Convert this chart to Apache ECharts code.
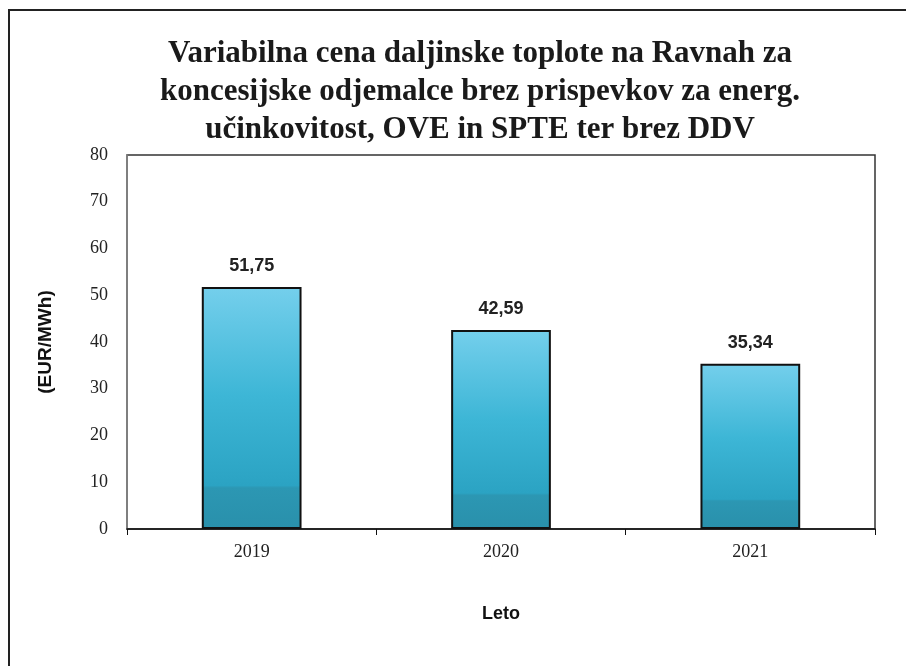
<!DOCTYPE html>
<html>
<head>
<meta charset="utf-8">
<script src="https://cdn.jsdelivr.net/npm/echarts@6/dist/echarts.min.js"></script>
<style>
  html, body { margin: 0; padding: 0; background: #fff; }
  #main { width: 906px; height: 666px; }
</style>
</head>
<body>
<div id="main"></div>
<script>
// podatki
const years = ['2019', '2020', '2021']
const prices = [51.75, 42.59, 35.34]
const titleLines = [
  'Variabilna cena daljinske toplote na Ravnah za',
  'koncesijske odjemalce brez prispevkov za energ.',
  'učinkovitost, OVE in SPTE ter brez DDV',
]

const chart = echarts.init(document.getElementById('main'))

const option = {
  backgroundColor: '#ffffff',
  animation: false,
  title: {
    text: titleLines.join('\n'),
    left: 475,
    textAlign: 'center',
    top: 30,
    textStyle: {
      fontFamily: 'Liberation Serif',
      fontWeight: 'bold',
      fontSize: 31,
      lineHeight: 38,
      color: '#1a1a1a',
    },
  },
  // okvir okoli celotne slike
  graphic: [
    {
      type: 'rect',
      shape: { x: 9, y: 10, width: 920, height: 700 },
      style: { fill: 'none', stroke: '#222', lineWidth: 2 },
      silent: true,
    },
  ],
  grid: {
    left: 127,
    right: 31,
    top: 155,
    bottom: 137,
    show: true,
    borderColor: '#333',
    borderWidth: 1.5,
  },
  xAxis: {
    type: 'category',
    data: years,
    name: 'Leto',
    nameLocation: 'middle',
    nameGap: 76,
    nameTextStyle: {
      fontFamily: 'Liberation Sans',
      fontWeight: 'bold',
      fontSize: 18,
      color: '#111',
    },
    axisLine: { lineStyle: { color: '#111', width: 1.5 } },
    axisTick: { show: true, length: 6, lineStyle: { color: '#111' } },
    axisLabel: {
      margin: 14,
      fontFamily: 'Liberation Serif',
      fontSize: 18,
      color: '#222',
    },
  },
  yAxis: {
    type: 'value',
    min: 0,
    max: 80,
    interval: 10,
    name: '(EUR/MWh)',
    nameLocation: 'middle',
    nameGap: 72,
    nameRotate: 90,
    nameTextStyle: {
      fontFamily: 'Liberation Sans',
      fontWeight: 'bold',
      fontSize: 19,
      color: '#111',
    },
    axisLine: { show: true, lineStyle: { color: '#888', width: 1.5 } },
    axisTick: { show: false },
    splitLine: { show: false },
    axisLabel: {
      margin: 19,
      fontFamily: 'Liberation Serif',
      fontSize: 18,
      color: '#222',
    },
  },
  series: [
    {
      type: 'bar',
      data: prices,
      barWidth: '40%',
      itemStyle: {
        borderColor: '#111',
        borderWidth: 2,
        color: new echarts.graphic.LinearGradient(0, 0, 0, 1, [
          { offset: 0, color: '#74cfec' },
          { offset: 0.45, color: '#3db6d6' },
          { offset: 0.82, color: '#2ba3c3' },
          { offset: 0.83, color: '#2c97b3' },
          { offset: 1, color: '#2990ab' },
        ]),
      },
      label: {
        show: true,
        position: 'top',
        distance: 12,
        fontFamily: 'Liberation Sans',
        fontWeight: 'bold',
        fontSize: 18,
        color: '#222',
        formatter: (p) => p.value.toFixed(2).replace('.', ','),
      },
    },
  ],
}

chart.setOption(option)
</script>
</body>
</html>
